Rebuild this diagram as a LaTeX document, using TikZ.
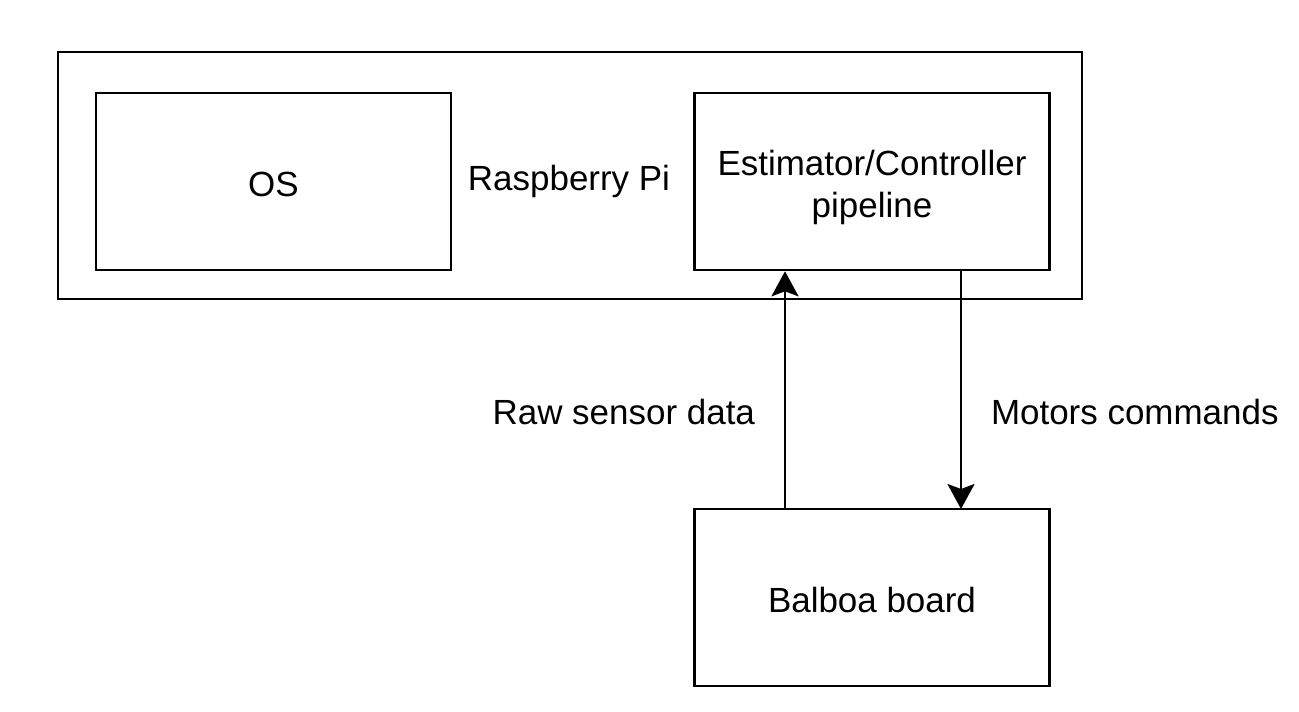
\documentclass[tikz,border=0pt]{standalone}
\usepackage{fontspec}
\setmainfont{Liberation Sans}
\usetikzlibrary{arrows.meta, positioning}

\begin{document}
\begin{tikzpicture}[x=0.02cm, y=-0.02cm,
  every node/.style={font=\fontsize{19.9}{24}\selectfont},
  every label/.style={align=center, yshift=-0.05cm},
  block/.style={draw, line width=1.5pt, minimum width=7.1cm, minimum height=3.54cm, inner sep=0pt},
  link/.style={line width=1.5pt, -{Stealth[length=0.5cm, width=0.54cm, inset=0.1cm]}}]

\useasboundingbox (0,0) rectangle (1299,711);

% Raspberry Pi enclosure
\draw [line width=1.5pt] (58,52) rectangle (1082,299);
\node (rpi) at (569,181) {Raspberry Pi};

\node [block, label=center:OS] (os) at (273.5,181.5) {};
\node [block, label={[yshift=-0.07cm]center:Estimator/Controller\\pipeline}] (est) at (872,181.5) {};
\node [block, label=center:Balboa board] (balboa) at (872,597.5) {};

\coordinate (upfoot) at (785,509);
\coordinate (downhead) at (961,509);

\draw [link] (upfoot) -- (upfoot |- est.south) node [pos=0.41, left=13pt] (raw) {Raw sensor data};
\draw [link] (downhead |- est.south) -- (downhead) node [pos=0.59, right=13pt] (motors) {Motors commands};

\end{tikzpicture}
\end{document}
